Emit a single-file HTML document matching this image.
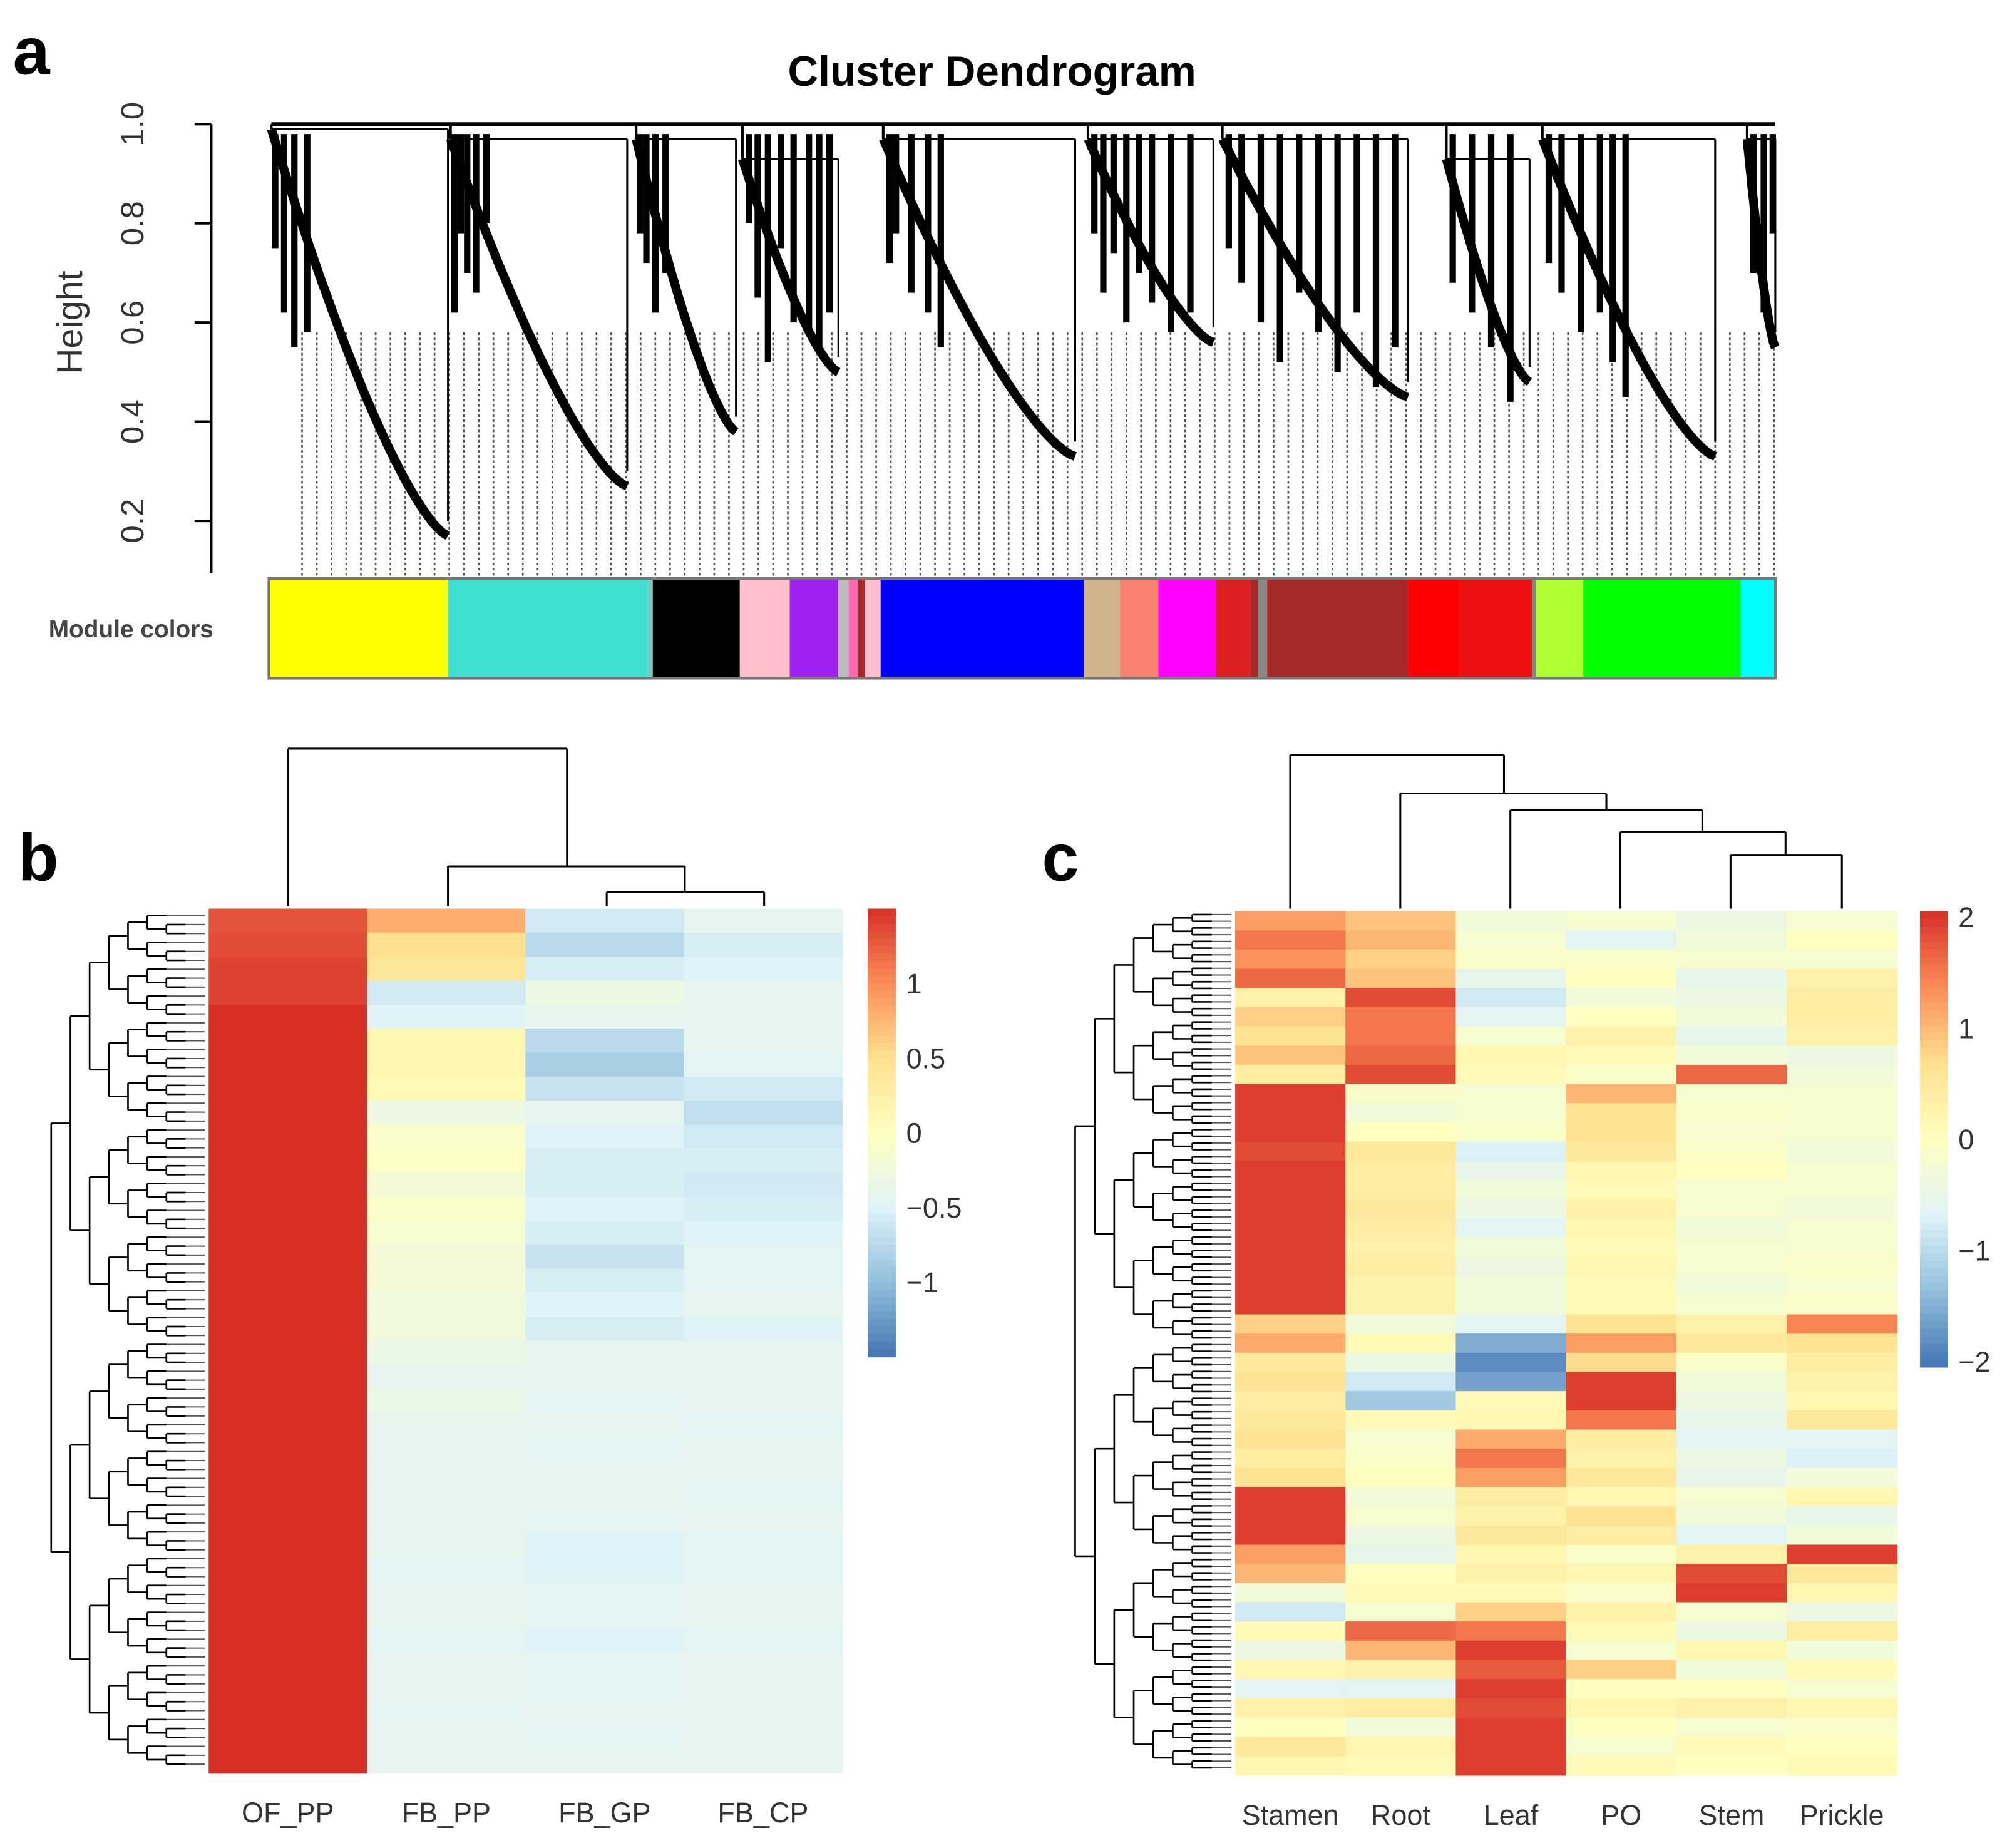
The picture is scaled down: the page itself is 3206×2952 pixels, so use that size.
<!DOCTYPE html>
<html><head><meta charset="utf-8"><style>
html,body{margin:0;padding:0;background:#fff}
svg{display:block}
text{font-family:"Liberation Sans",Arial,sans-serif}
</style></head><body>
<svg id="fig" xmlns="http://www.w3.org/2000/svg" width="3206" height="2952" viewBox="0 0 1568 1444" preserveAspectRatio="none">
<rect width="1568" height="1444" fill="#fff"/>
<text x="10" y="58" font-size="52" font-weight="bold">a</text>
<text x="775" y="67" font-size="33" font-weight="bold" text-anchor="middle">Cluster Dendrogram</text>
<text transform="translate(64,252) rotate(-90)" font-size="28" text-anchor="middle" fill="#333">Height</text>
<g id="axisA"></g>
<g id="dendroA"></g>
<g id="modules"></g>
<text x="38" y="498" font-size="19" font-weight="bold" fill="#444">Module colors</text>

<text x="14" y="688" font-size="52" font-weight="bold">b</text>
<g id="heatB"></g>
<g id="rowDendB"></g>
<g id="colDendB"></g>
<g id="legendB"></g>

<text x="814" y="688" font-size="52" font-weight="bold">c</text>
<g id="heatC"></g>
<g id="rowDendC"></g>
<g id="colDendC"></g>
<g id="legendC"></g>
</svg>
<script>
// ---------- Panel a data ----------
const heightTicks = [0.2, 0.4, 0.6, 0.8, 1.0];
const clusterX0 = [212, 352, 497, 580, 690, 850, 955, 1130, 1205, 1365];
const clusterX1 = [350, 490, 575, 655, 840, 948, 1100, 1195, 1340, 1387];
const clusterTop = [0.99, 0.97, 0.97, 0.93, 0.97, 0.97, 0.97, 0.93, 0.97, 0.97];
const clusterMin = [0.17, 0.27, 0.38, 0.50, 0.33, 0.56, 0.45, 0.48, 0.33, 0.55];
const spikeX = [215,222,230,240,355,360,365,372,380,500,505,512,520,585,592,600,610,620,632,640,648,695,700,712,725,735,855,862,870,880,890,900,915,930,960,970,985,1000,1015,1030,1045,1060,1075,1090,1135,1150,1165,1180,1210,1220,1235,1250,1260,1270,1370,1378,1385];
const spikeH  = [0.75,0.62,0.55,0.58,0.62,0.78,0.70,0.66,0.80,0.78,0.72,0.62,0.70,0.80,0.65,0.52,0.75,0.60,0.58,0.55,0.62,0.72,0.78,0.66,0.62,0.55,0.78,0.66,0.74,0.60,0.70,0.64,0.58,0.62,0.75,0.68,0.60,0.52,0.66,0.58,0.50,0.62,0.47,0.55,0.68,0.62,0.55,0.44,0.72,0.66,0.58,0.62,0.52,0.45,0.70,0.62,0.78];
const moduleStart = [210,350,506,510,578,617,655,663,670,676,688,847,875,905,950,977,983,990,1100,1140,1197,1200,1237,1360];
const moduleEnd   = [350,506,510,578,617,655,663,670,676,688,847,875,905,950,977,983,990,1100,1140,1197,1200,1237,1360,1387];
const moduleColor = ["#ffff00","#40e0d0","#7fc8c0","#000000","#ffc0cb","#a020f0","#bbbbbb","#ff69b4","#a52a2a","#ffc0cb","#0000ff","#d2b48c","#fa8072","#ff00ff","#dd2020","#a52a2a","#888888","#a52a2a","#ff0000","#ee1010","#888888","#adff2f","#00ff00","#00ffff"];

// ---------- Panel b data ----------
const colsB = ["OF_PP","FB_PP","FB_GP","FB_CP"];
const bOF = [1.3,1.35,1.4,1.4,1.5,1.5,1.5,1.5,1.5,1.5,1.5,1.5,1.5,1.5,1.5,1.5,1.5,1.5,1.5,1.5,1.5,1.5,1.5,1.5,1.5,1.5,1.5,1.5,1.5,1.5,1.5,1.5,1.5,1.5,1.5,1.5];
const bPP = [0.8,0.5,0.4,-0.6,-0.5,0.15,0.15,0.1,-0.3,-0.1,-0.05,-0.2,-0.1,-0.15,-0.2,-0.2,-0.25,-0.25,-0.35,-0.4,-0.35,-0.4,-0.4,-0.4,-0.4,-0.4,-0.4,-0.45,-0.4,-0.4,-0.45,-0.4,-0.4,-0.45,-0.4,-0.4];
const bGP = [-0.6,-0.75,-0.55,-0.3,-0.4,-0.75,-0.85,-0.65,-0.4,-0.5,-0.55,-0.55,-0.5,-0.55,-0.65,-0.55,-0.5,-0.55,-0.4,-0.4,-0.45,-0.4,-0.45,-0.4,-0.4,-0.45,-0.5,-0.5,-0.45,-0.45,-0.5,-0.45,-0.45,-0.4,-0.45,-0.4];
const bCP = [-0.4,-0.55,-0.5,-0.4,-0.4,-0.4,-0.45,-0.6,-0.7,-0.6,-0.55,-0.6,-0.55,-0.5,-0.45,-0.45,-0.4,-0.5,-0.4,-0.4,-0.4,-0.45,-0.4,-0.4,-0.45,-0.4,-0.45,-0.45,-0.4,-0.4,-0.45,-0.4,-0.4,-0.4,-0.4,-0.4];
const ticksB = [-1, -0.5, 0, 0.5, 1];
const tickLabelsB = ["\u22121","\u22120.5","0","0.5","1"];

// ---------- Panel c data ----------
const colsC = ["Stamen","Root","Leaf","PO","Stem","Prickle"];
const cStamen = [1.2,1.5,1.3,1.6,0.3,0.8,0.6,0.9,0.4,1.9,1.9,1.9,1.8,1.9,1.9,1.9,1.9,1.9,1.9,1.9,1.9,0.8,1.1,0.5,0.6,0.4,0.5,0.6,0.4,0.6,1.9,1.9,1.9,1.2,1.0,-0.3,-0.8,0.1,-0.4,0.2,-0.6,0.3,0.0,0.5,0.2];
const cRoot   = [0.9,1.0,0.8,0.9,1.8,1.5,1.5,1.6,1.8,-0.1,-0.3,0.0,0.5,0.4,0.4,0.5,0.4,0.3,0.4,0.3,0.3,-0.3,0.1,-0.4,-0.8,-1.2,0.1,-0.2,-0.1,0.0,-0.3,-0.2,-0.4,-0.5,0.0,0.1,-0.2,1.6,1.0,0.3,-0.6,0.4,-0.3,0.2,0.1];
const cLeaf   = [-0.3,-0.2,-0.1,-0.5,-0.8,-0.6,-0.2,0.2,0.1,-0.2,-0.2,-0.1,-0.7,-0.5,-0.3,-0.4,-0.6,-0.3,-0.4,-0.3,-0.3,-0.6,-1.5,-1.8,-1.6,0.1,0.2,1.1,1.5,1.2,0.4,0.3,0.5,0.2,0.3,0.1,0.8,1.5,1.9,1.7,1.9,1.8,1.9,1.9,1.9];
const cPO     = [-0.2,-0.6,-0.1,0.0,-0.3,0.0,0.3,0.1,-0.1,1.0,0.6,0.6,0.5,0.2,0.1,0.3,0.2,0.1,0.2,0.1,0.1,0.6,1.2,0.7,1.9,1.9,1.5,0.4,0.3,0.5,0.2,0.6,0.4,-0.1,0.2,-0.1,0.3,0.1,-0.2,0.8,0.0,0.2,0.0,-0.2,0.1];
const cStem   = [-0.4,-0.3,-0.2,-0.5,-0.4,-0.3,-0.5,-0.3,1.6,-0.2,-0.1,-0.2,-0.1,0.0,-0.2,-0.2,-0.3,-0.2,-0.2,-0.3,-0.2,0.3,0.5,-0.1,-0.3,-0.4,-0.5,-0.6,-0.4,-0.5,-0.2,-0.3,-0.6,0.3,1.8,1.9,-0.2,-0.4,0.2,-0.3,0.0,0.3,-0.2,0.1,0.0];
const cPrickle= [-0.2,0.0,-0.2,0.3,0.4,0.4,0.3,-0.4,-0.3,-0.2,-0.2,-0.2,-0.3,-0.2,-0.2,-0.3,-0.2,-0.2,-0.1,-0.2,-0.1,1.4,0.6,0.4,0.3,0.2,0.5,-0.6,-0.7,-0.3,0.2,-0.5,-0.3,1.9,0.5,0.2,-0.4,0.4,-0.3,0.1,-0.2,0.2,-0.1,0.0,0.1];
const ticksC = [-2,-1,0,1,2];
const tickLabelsC = ["\u22122","\u22121","0","1","2"];

// ---------- helpers ----------
const NS = "http://www.w3.org/2000/svg";
function mk(tag, attrs, parent){const e=document.createElementNS(NS,tag);for(const k in attrs)e.setAttribute(k,attrs[k]);parent.appendChild(e);return e;}
const pal = ["#4575B4","#91BFDB","#E0F3F8","#FFFFBF","#FEE090","#FC8D59","#D73027"];
function hex(c){return [parseInt(c.slice(1,3),16),parseInt(c.slice(3,5),16),parseInt(c.slice(5,7),16)];}
function colorAt(v, lo, hi){
  let t=(v-lo)/(hi-lo); t=Math.max(0,Math.min(1,t));
  const p=t*(pal.length-1); const i=Math.min(pal.length-2,Math.floor(p)); const f=p-i;
  const a=hex(pal[i]), b=hex(pal[i+1]);
  return "rgb("+a.map((x,k)=>Math.round(x+(b[k]-x)*f)).join(",")+")";
}

// ---------- Panel a ----------
const yA = h => 97 + (1 - h) * 387.5;
const axA = document.getElementById("axisA");
mk("line",{x1:165,y1:yA(1),x2:165,y2:448,stroke:"#000","stroke-width":2},axA);
heightTicks.forEach(t=>{
  mk("line",{x1:152,y1:yA(t),x2:165,y2:yA(t),stroke:"#000","stroke-width":2},axA);
  const tx = mk("text",{transform:`translate(112,${yA(t)}) rotate(-90)`,"font-size":25,"text-anchor":"middle",fill:"#333"},axA);
  tx.textContent = t.toFixed(1);
  
  
});
const dA = document.getElementById("dendroA");
mk("line",{x1:212,y1:yA(1.0),x2:1387,y2:yA(1.0),stroke:"#000","stroke-width":3},dA);
for(let x=236;x<1387;x+=11.5){
  mk("line",{x1:x,y1:yA(0.58),x2:x,y2:450,stroke:"#555","stroke-width":1.3,"stroke-dasharray":"2,2"},dA);
}
clusterX0.forEach((x0,i)=>{
  const x1=clusterX1[i], top=clusterTop[i], mn=clusterMin[i];
  const g = mk("g",{},dA);
  
  
  let pts=[];
  for(let k=0;k<=40;k++){
    const t=k/40;
    const h = mn + (top-mn)*Math.pow(1-t,1.4);
    pts.push((x0+(x1-x0)*t).toFixed(1)+","+yA(h).toFixed(1));
  }
  mk("polyline",{points:pts.join(" "),fill:"none",stroke:"#000","stroke-width":7},g);
  mk("line",{x1:x0,y1:yA(1.0),x2:x0,y2:yA(top),stroke:"#000","stroke-width":2},g);
  mk("line",{x1:x0,y1:yA(top),x2:x1,y2:yA(top),stroke:"#000","stroke-width":1.5},g);
  mk("line",{x1:x1,y1:yA(top),x2:x1,y2:yA(mn+0.03),stroke:"#000","stroke-width":1.5},g);
});
spikeX.forEach((x,i)=>{
  const l = mk("line",{x1:x,y1:yA(0.98),x2:x,y2:yA(spikeH[i]),stroke:"#000","stroke-width":5},dA);
  
  
});
const mods = document.getElementById("modules");
moduleStart.forEach((s,i)=>{
  const r = mk("rect",{x:s,y:452,width:moduleEnd[i]-s,height:78,fill:moduleColor[i]},mods);
  
  
});
mk("rect",{x:210,y:452,width:1177,height:78,fill:"none",stroke:"#777","stroke-width":2},mods);

// ---------- heatmap builder ----------
function heatmap(gid, cols, data, x0, y0, w, h, lo, hi, labelY, labelSize){
  const g=document.getElementById(gid);
  const cw=w/cols.length, n=data[0].length, rh=h/n;
  data.forEach((arr,c)=>{
    arr.forEach((v,r)=>{
      const rc = mk("rect",{x:x0+c*cw,y:y0+r*rh,width:cw+0.5,height:rh+0.5,fill:colorAt(v,lo,hi)},g);
      
      
    });
    const t = mk("text",{x:x0+c*cw+cw/2,y:labelY,"font-size":labelSize,"text-anchor":"middle",fill:"#333"},g);
    t.textContent=cols[c];
    
    
  });
}
heatmap("heatB", colsB, [bOF,bPP,bGP,bCP], 163, 710, 495, 675, -1.5, 1.5, 1424, 22);
heatmap("heatC", colsC, [cStamen,cRoot,cLeaf,cPO,cStem,cPrickle], 965, 712, 517, 675, -2, 2, 1426, 22);

function rowDend(gid, xl, xr, y0, h, leaves, depth){
  const g=document.getElementById(gid);
  function rec(a,b,d){
    if(b-a<=1 || d>=depth){
      for(let k=a;k<b;k++) mk("line",{x1:xl+(xr-xl)*(d/depth),y1:y0+(k+0.5)*h/leaves,x2:xr,y2:y0+(k+0.5)*h/leaves,stroke:"#555","stroke-width":1},g);
      return {y:(y0+(a+0.5)*h/leaves + y0+(b-0.5)*h/leaves)/2, x:xl+(xr-xl)*(d/depth)};
    }
    const m=Math.floor((a+b)/2);
    const L=rec(a,m,d+1), R=rec(m,b,d+1);
    const x=xl+(xr-xl)*(d/depth);
    mk("line",{x1:x,y1:L.y,x2:x,y2:R.y,stroke:"#000","stroke-width":1.3},g);
    mk("line",{x1:x,y1:L.y,x2:L.x,y2:L.y,stroke:"#000","stroke-width":1.3},g);
    mk("line",{x1:x,y1:R.y,x2:R.x,y2:R.y,stroke:"#000","stroke-width":1.3},g);
    return {y:(L.y+R.y)/2, x:x};
  }
  rec(0,leaves,0);
}
rowDend("rowDendB", 40, 160, 712, 670, 96, 8);
rowDend("rowDendC", 840, 962, 712, 672, 128, 8);

function seg(g,x1,y1,x2,y2){mk("line",{x1,y1,x2,y2,stroke:"#000","stroke-width":1.5},g);}
const cdb=document.getElementById("colDendB");
seg(cdb,474,697,597,697);seg(cdb,474,697,474,708);seg(cdb,597,697,597,708);
seg(cdb,350,677,535,677);seg(cdb,350,677,350,708);seg(cdb,535,677,535,697);
seg(cdb,225,585,443,585);seg(cdb,225,585,225,708);seg(cdb,443,585,443,677);
const cdc=document.getElementById("colDendC");
seg(cdc,1352,668,1439,668);seg(cdc,1352,668,1352,710);seg(cdc,1439,668,1439,710);
seg(cdc,1266,650,1395,650);seg(cdc,1266,650,1266,710);seg(cdc,1395,650,1395,668);
seg(cdc,1180,633,1330,633);seg(cdc,1180,633,1180,710);seg(cdc,1330,633,1330,650);
seg(cdc,1094,620,1255,620);seg(cdc,1094,620,1094,710);seg(cdc,1255,620,1255,633);
seg(cdc,1008,590,1175,590);seg(cdc,1008,590,1008,710);seg(cdc,1175,590,1175,620);

function legend(gid, x, yTop, yBot, lo, hi, ticks, labels){
  const g=document.getElementById(gid);
  const steps=60, hh=(yBot-yTop)/steps;
  for(let i=0;i<steps;i++){
    const v = hi-(i+0.5)/steps*(hi-lo);
    mk("rect",{x:x,y:yTop+i*hh,width:22,height:hh+0.6,fill:colorAt(v,lo,hi)},g);
  }
  ticks.forEach((t,i)=>{
    const y=yTop+(hi-t)/(hi-lo)*(yBot-yTop);
    const tx=mk("text",{x:x+30,y:y+8,"font-size":22,fill:"#333"},g);
    tx.textContent=labels[i];
    
    
  });
}
legend("legendB", 678, 710, 1060, -1.5, 1.5, ticksB, tickLabelsB);
legend("legendC", 1500, 712, 1068, -2.05, 2.05, ticksC, tickLabelsC);
</script>
</body></html>
